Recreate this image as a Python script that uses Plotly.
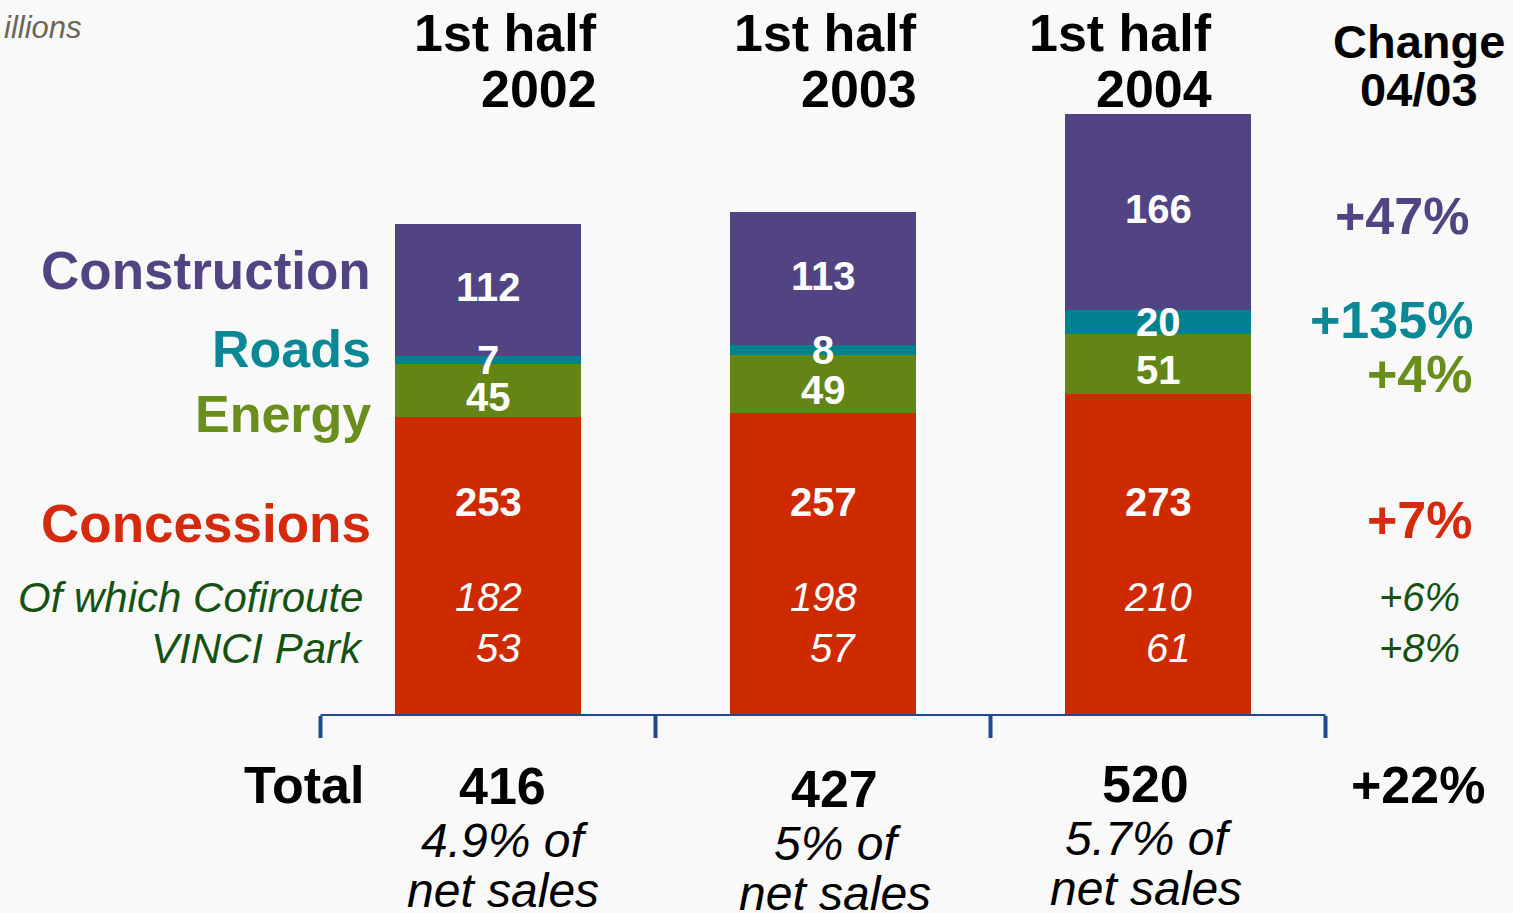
import plotly.graph_objects as go

# ---- data -------------------------------------------------------------
periods = ["1st half 2002", "1st half 2003", "1st half 2004"]
header_top = ["1st half", "1st half", "1st half"]
header_year = ["2002", "2003", "2004"]

concessions = [253, 257, 273]
energy = [45, 49, 51]
roads = [7, 8, 20]
construction = [112, 113, 166]
cofiroute = [182, 198, 210]
vinci_park = [53, 57, 61]

totals = [416, 427, 520]
share_of_sales = ["4.9%", "5%", "5.7%"]

change_construction = "+47%"
change_roads = "+135%"
change_energy = "+4%"
change_concessions = "+7%"
change_cofiroute = "+6%"
change_vinci_park = "+8%"
change_total = "+22%"

# ---- styling ----------------------------------------------------------
W, H = 1513, 913
FONT = "Liberation Sans, Arial, Helvetica, sans-serif"
C_CONS = "#cd2a00"
C_ENER = "#638515"
C_ROAD = "#00818f"
C_CONST = "#524483"
C_SUB = "#155212"
C_AXIS = "#1f4b8c"
BG = "#f9f9f9"


def px(x):
    return x / W


def py(y):
    return 1 - y / H


x_idx = list(range(len(periods)))
BAR_W = 0.558

fig = go.Figure()
for name, vals, col in [
    ("Concessions", concessions, C_CONS),
    ("Energy", energy, C_ENER),
    ("Roads", roads, C_ROAD),
    ("Construction", construction, C_CONST),
]:
    fig.add_bar(
        x=x_idx, y=vals, name=name, width=BAR_W,
        marker=dict(color=col, line=dict(width=0)),
        hoverinfo="skip", showlegend=False,
    )

ann = []


def text(x, y, s, size, color="black", xanchor="center", xref="paper",
         yref="paper", xshift=0, yshift=0):
    ann.append(dict(
        x=x, y=y, xref=xref, yref=yref, text=s, showarrow=False,
        xanchor=xanchor, yanchor="middle", xshift=xshift, yshift=yshift,
        font=dict(family=FONT, size=size, color=color),
    ))


# values inside the stacked bars
for i in x_idx:
    base_e = concessions[i]
    base_r = base_e + energy[i]
    base_c = base_r + roads[i]
    text(i, base_c + construction[i] / 2, f"<b>{construction[i]}</b>", 40,
         "white", xref="x", yref="y", yshift=3)
    text(i, base_r + roads[i] / 2, f"<b>{roads[i]}</b>", 40, "white",
         xref="x", yref="y")
    text(i, base_e + energy[i] / 2, f"<b>{energy[i]}</b>", 40, "white",
         xref="x", yref="y", yshift=-6)
    text(i, 181, f"<b>{concessions[i]}</b>", 40, "white", xref="x", yref="y")
    text(i, 101, f"<i>{cofiroute[i]}</i>", 40, "white", xref="x", yref="y")
    text(i, 58, f"<i>{vinci_park[i]}</i>", 40, "white", xref="x", yref="y",
         xshift=10)

# column headers
for right, top, yr in zip([599, 919, 1214], header_top, header_year):
    text(px(right), py(33), f"<b>{top}</b>", 52, xanchor="right")
    text(px(right), py(89), f"<b>{yr}</b>", 52, xanchor="right")
text(px(1419), py(41), "<b>Change</b>", 47)
text(px(1419), py(89), "<b>04/03</b>", 47)
text(px(2), py(27), "<i>illions</i>", 31, "#6b6659", xanchor="left")

# row labels on the left
text(px(373), py(270), "<b>Construction</b>", 53, C_CONST, xanchor="right")
text(px(373), py(349), "<b>Roads</b>", 52, "#0b8896", xanchor="right")
text(px(373), py(414), "<b>Energy</b>", 52, "#6a8e1c", xanchor="right")
text(px(373), py(523), "<b>Concessions</b>", 53, "#d42b0c", xanchor="right")
text(px(365), py(597), "<i>Of which Cofiroute</i>", 42, C_SUB, xanchor="right")
text(px(365), py(648), "<i>VINCI Park</i>", 42, C_SUB, xanchor="right")

# change column on the right
text(px(1471), py(216), f"<b>{change_construction}</b>", 52, C_CONST, xanchor="right")
text(px(1475), py(320), f"<b>{change_roads}</b>", 52, "#0b8896", xanchor="right")
text(px(1475), py(374), f"<b>{change_energy}</b>", 52, "#6a8e1c", xanchor="right")
text(px(1475), py(520), f"<b>{change_concessions}</b>", 52, "#d42b0c", xanchor="right")
text(px(1462), py(597), f"<i>{change_cofiroute}</i>", 40, C_SUB, xanchor="right")
text(px(1462), py(648), f"<i>{change_vinci_park}</i>", 40, C_SUB, xanchor="right")

# totals row
text(px(366), py(785), "<b>Total</b>", 52, xanchor="right")
for cx, tot, pct, dy in zip([502, 834, 1145], totals, share_of_sales, [0, 3, -2]):
    text(px(cx), py(786 + dy), f"<b>{tot}</b>", 52)
    text(px(cx + 3), py(840 + dy), f"<i>{pct} of</i>", 48)
    text(px(cx + 1), py(890 + dy), "<i>net sales</i>", 48)
text(px(1418), py(785), f"<b>{change_total}</b>", 52)

# baseline with category separators
shapes = [dict(type="line", xref="x", yref="y", x0=-0.5, x1=2.5, y0=0, y1=0,
               line=dict(color=C_AXIS, width=4))]
for t in [-0.5, 0.5, 1.5, 2.5]:
    shapes.append(dict(type="line", xref="x", yref="paper", x0=t, x1=t,
                       y0=py(716), y1=py(738),
                       line=dict(color=C_AXIS, width=4)))

PX_PER_UNIT = 1.18
fig.update_layout(
    width=W, height=H, margin=dict(l=0, r=0, t=0, b=0),
    barmode="stack", bargap=0,
    paper_bgcolor=BG, plot_bgcolor=BG,
    xaxis=dict(range=[-488 / 335, (W - 488) / 335], visible=False,
               fixedrange=True),
    yaxis=dict(range=[0, 716 / PX_PER_UNIT], domain=[(H - 716) / H, 1],
               visible=False, fixedrange=True),
    annotations=ann, shapes=shapes,
)

fig.write_html("out.html")
